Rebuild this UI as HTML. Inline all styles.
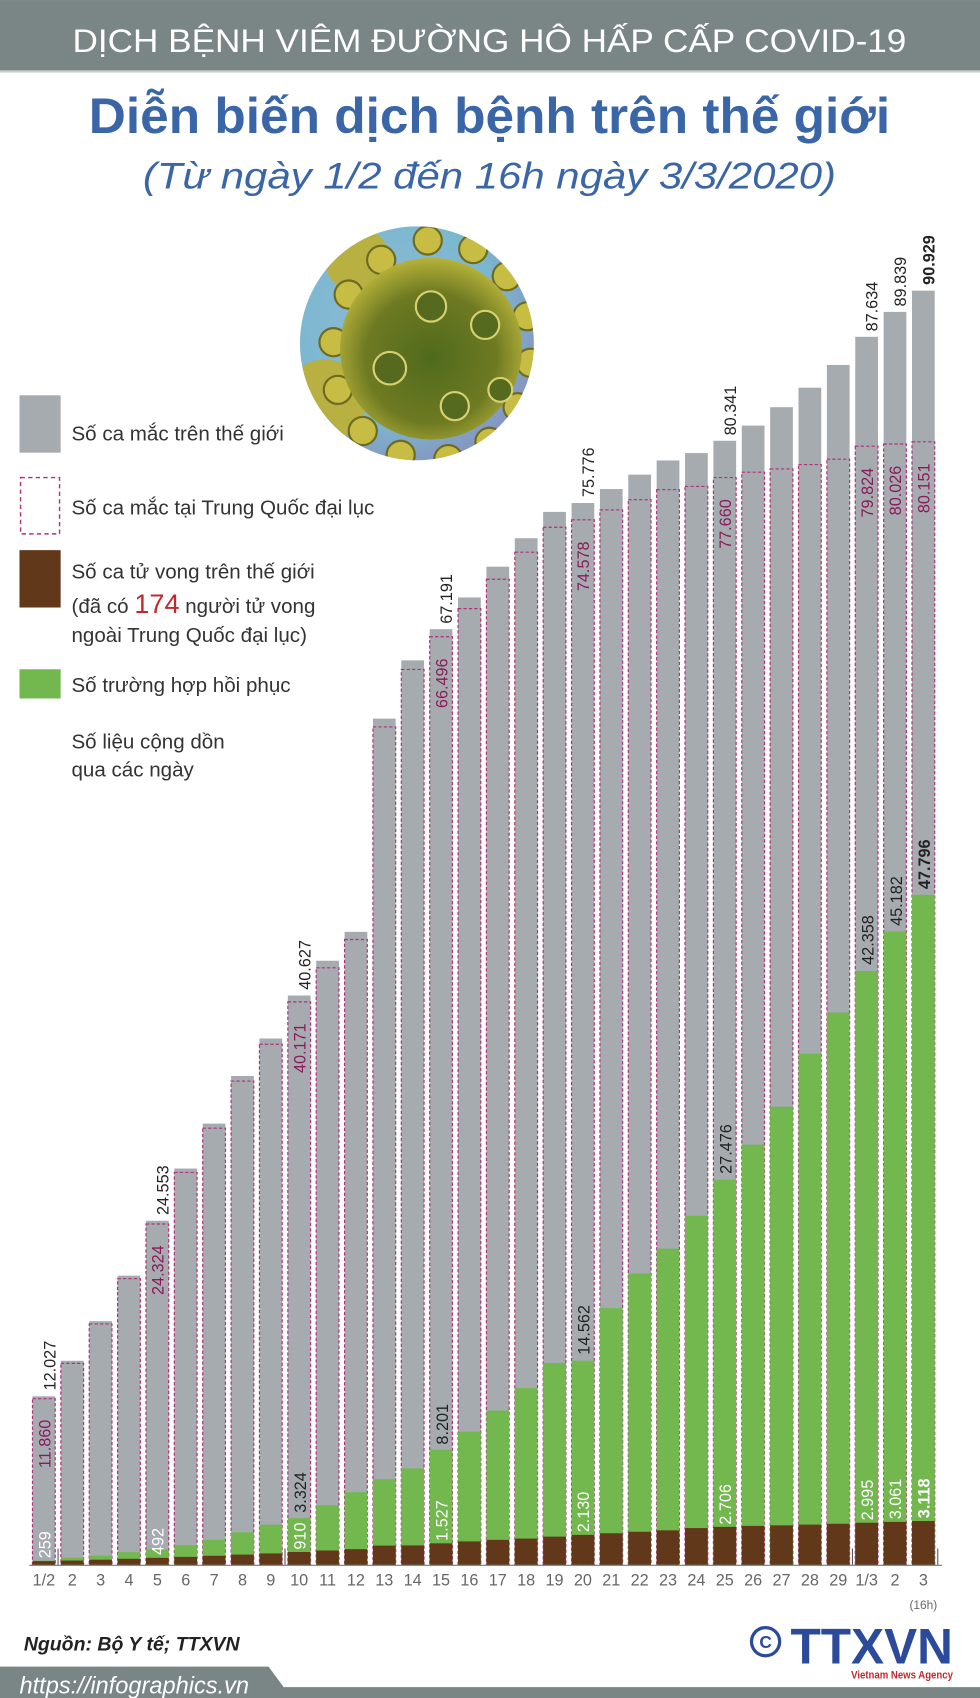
<!DOCTYPE html>
<html><head><meta charset="utf-8"><style>
html,body{margin:0;padding:0;background:#fff;}
svg{display:block;}
text{font-family:"Liberation Sans",sans-serif;}
</style></head><body>
<svg width="980" height="1698" viewBox="0 0 905 1568" xmlns="http://www.w3.org/2000/svg">
<defs>
<radialGradient id="bg" cx="0.4" cy="0.4" r="0.7"><stop offset="0" stop-color="#8fb7d6"/><stop offset="0.6" stop-color="#7ab8d0"/><stop offset="1" stop-color="#8c86b8"/></radialGradient>
<radialGradient id="ball" cx="0.5" cy="0.55" r="0.6"><stop offset="0" stop-color="#4f6a1c"/><stop offset="0.6" stop-color="#6e7a22"/><stop offset="1" stop-color="#c9c040"/></radialGradient>
<clipPath id="cc"><circle cx="385" cy="317" r="108"/></clipPath>
</defs>
<rect x="0" y="0" width="905" height="65" fill="#7a8585"/>
<rect x="0" y="65" width="905" height="2" fill="#c9cdce"/>
<text x="452" y="48" text-anchor="middle" font-size="30" fill="#fff" textLength="770" lengthAdjust="spacingAndGlyphs">DỊCH BỆNH VIÊM ĐƯỜNG HÔ HẤP CẤP COVID-19</text>
<text x="452" y="123" text-anchor="middle" font-size="46" font-weight="bold" fill="#3a66a8" textLength="740" lengthAdjust="spacingAndGlyphs">Diễn biến dịch bệnh trên thế giới</text>
<text x="452" y="174" text-anchor="middle" font-size="34" font-style="italic" fill="#3a66a8" textLength="640" lengthAdjust="spacingAndGlyphs">(Từ ngày 1/2 đến 16h ngày 3/3/2020)</text>
<!-- virus -->
<g clip-path="url(#cc)">
<rect x="270" y="200" width="230" height="230" fill="url(#bg)"/>
<g fill="#b8b040"><circle cx="300" cy="370" r="38"/><circle cx="330" cy="240" r="30"/><circle cx="290" cy="410" r="20"/></g>
<g fill="#c7bd45" stroke="#6e6a20" stroke-width="2">
<circle cx="395" cy="222" r="13"/><circle cx="437" cy="230" r="13"/><circle cx="468" cy="255" r="13"/><circle cx="487" cy="292" r="13"/><circle cx="490" cy="335" r="13"/><circle cx="478" cy="376" r="13"/><circle cx="452" cy="408" r="13"/><circle cx="414" cy="424" r="13"/><circle cx="370" cy="420" r="13"/><circle cx="335" cy="398" r="13"/><circle cx="312" cy="360" r="13"/><circle cx="308" cy="316" r="13"/><circle cx="322" cy="272" r="13"/><circle cx="352" cy="240" r="13"/>
</g>
<circle cx="398" cy="322" r="84" fill="url(#ball)"/>
<g fill="#556a1e" stroke="#d7d070" stroke-width="2"><circle cx="398" cy="283" r="14"/><circle cx="448" cy="300" r="13"/><circle cx="360" cy="340" r="15"/><circle cx="420" cy="375" r="13"/><circle cx="462" cy="360" r="11"/></g>
</g>
<!-- legend -->
<rect x="18" y="365" width="38" height="53" fill="#a6abb0"/>
<text x="66" y="407" font-size="19" fill="#333">Số ca mắc trên thế giới</text>
<rect x="19" y="441" width="36" height="52" fill="none" stroke="#b0307a" stroke-width="1.3" stroke-dasharray="4,3"/>
<text x="66" y="475" font-size="19" fill="#333">Số ca mắc tại Trung Quốc đại lục</text>
<rect x="18" y="508" width="38" height="53" fill="#62381a"/>
<text x="66" y="534" font-size="19" fill="#333">Số ca tử vong trên thế giới</text>
<text x="66" y="566" font-size="19" fill="#333">(đã có <tspan fill="#c0282d" font-size="25">174</tspan> người tử vong</text>
<text x="66" y="593" font-size="19" fill="#333">ngoài Trung Quốc đại lục)</text>
<rect x="18" y="618" width="38" height="27" fill="#72b84f"/>
<text x="66" y="639" font-size="19" fill="#333">Số trường hợp hồi phục</text>
<text x="66" y="691" font-size="19" fill="#333">Số liệu cộng dồn</text>
<text x="66" y="717" font-size="19" fill="#333">qua các ngày</text>
<g fill="#a6abb0">
<rect x="30" y="1289.4" width="21" height="155.6"/><rect x="56.2" y="1256.6" width="21" height="188.4"/><rect x="82.4" y="1220" width="21" height="225"/><rect x="108.6" y="1178" width="21" height="267"/><rect x="134.8" y="1127.3" width="21" height="317.7"/><rect x="161" y="1079.1" width="21" height="365.9"/><rect x="187.2" y="1037.6" width="21" height="407.4"/><rect x="213.4" y="993.6" width="21" height="451.4"/><rect x="239.6" y="959" width="21" height="486"/><rect x="265.8" y="919.3" width="21" height="525.7"/><rect x="292" y="887.2" width="21" height="557.8"/><rect x="318.2" y="860.5" width="21" height="584.5"/><rect x="344.4" y="663.6" width="21" height="781.4"/><rect x="370.6" y="609.8" width="21" height="835.2"/><rect x="396.8" y="581" width="21" height="864"/><rect x="423" y="551.7" width="21" height="893.3"/><rect x="449.2" y="523.3" width="21" height="921.7"/><rect x="475.4" y="497" width="21" height="948"/><rect x="501.6" y="472.7" width="21" height="972.3"/><rect x="527.8" y="464.5" width="21" height="980.5"/><rect x="554" y="451.6" width="21" height="993.4"/><rect x="580.2" y="438.3" width="21" height="1006.7"/><rect x="606.4" y="425.2" width="21" height="1019.8"/><rect x="632.6" y="418.4" width="21" height="1026.6"/><rect x="658.8" y="407" width="21" height="1038"/><rect x="685" y="393" width="21" height="1052"/><rect x="711.2" y="376" width="21" height="1069"/><rect x="737.4" y="358" width="21" height="1087"/><rect x="763.6" y="337" width="21" height="1108"/><rect x="789.8" y="311" width="21" height="1134"/><rect x="816" y="288" width="21" height="1157"/><rect x="842.2" y="268.4" width="21" height="1176.6"/>
</g>
<g fill="none" stroke="#b0307a" stroke-width="1.1" stroke-dasharray="3,2">
<rect x="30" y="1291.6" width="21" height="153.4"/><rect x="56.2" y="1259" width="21" height="186"/><rect x="82.4" y="1222.6" width="21" height="222.4"/><rect x="108.6" y="1180.8" width="21" height="264.2"/><rect x="134.8" y="1130.3" width="21" height="314.7"/><rect x="161" y="1082.7" width="21" height="362.3"/><rect x="187.2" y="1041.8" width="21" height="403.2"/><rect x="213.4" y="998.3" width="21" height="446.7"/><rect x="239.6" y="964.3" width="21" height="480.7"/><rect x="265.8" y="925.2" width="21" height="519.8"/><rect x="292" y="893.7" width="21" height="551.3"/><rect x="318.2" y="867.6" width="21" height="577.4"/><rect x="344.4" y="671.3" width="21" height="773.7"/><rect x="370.6" y="618.2" width="21" height="826.8"/><rect x="396.8" y="588" width="21" height="857"/><rect x="423" y="562" width="21" height="883"/><rect x="449.2" y="534.9" width="21" height="910.1"/><rect x="475.4" y="509.9" width="21" height="935.1"/><rect x="501.6" y="486.9" width="21" height="958.1"/><rect x="527.8" y="480" width="21" height="965"/><rect x="554" y="470.9" width="21" height="974.1"/><rect x="580.2" y="461.4" width="21" height="983.6"/><rect x="606.4" y="452.2" width="21" height="992.8"/><rect x="632.6" y="449.2" width="21" height="995.8"/><rect x="658.8" y="441" width="21" height="1004"/><rect x="685" y="436" width="21" height="1009"/><rect x="711.2" y="433" width="21" height="1012"/><rect x="737.4" y="429" width="21" height="1016"/><rect x="763.6" y="424" width="21" height="1021"/><rect x="789.8" y="412" width="21" height="1033"/><rect x="816" y="410" width="21" height="1035"/><rect x="842.2" y="408" width="21" height="1037"/>
</g>
<g fill="#72b84f">
<rect x="30" y="1441.1" width="21" height="3.9"/><rect x="56.2" y="1438.5" width="21" height="6.5"/><rect x="82.4" y="1436.6" width="21" height="8.4"/><rect x="108.6" y="1433.4" width="21" height="11.6"/><rect x="134.8" y="1430.8" width="21" height="14.2"/><rect x="161" y="1427" width="21" height="18"/><rect x="187.2" y="1422" width="21" height="23"/><rect x="213.4" y="1415" width="21" height="30"/><rect x="239.6" y="1408" width="21" height="37"/><rect x="265.8" y="1402" width="21" height="43"/><rect x="292" y="1390" width="21" height="55"/><rect x="318.2" y="1378" width="21" height="67"/><rect x="344.4" y="1366" width="21" height="79"/><rect x="370.6" y="1356" width="21" height="89"/><rect x="396.8" y="1338.8" width="21" height="106.2"/><rect x="423" y="1322" width="21" height="123"/><rect x="449.2" y="1302.6" width="21" height="142.4"/><rect x="475.4" y="1281.9" width="21" height="163.1"/><rect x="501.6" y="1258.6" width="21" height="186.4"/><rect x="527.8" y="1256.5" width="21" height="188.5"/><rect x="554" y="1208" width="21" height="237"/><rect x="580.2" y="1176" width="21" height="269"/><rect x="606.4" y="1153" width="21" height="292"/><rect x="632.6" y="1122.7" width="21" height="322.3"/><rect x="658.8" y="1089.4" width="21" height="355.6"/><rect x="685" y="1057" width="21" height="388"/><rect x="711.2" y="1022" width="21" height="423"/><rect x="737.4" y="973" width="21" height="472"/><rect x="763.6" y="935" width="21" height="510"/><rect x="789.8" y="896.7" width="21" height="548.3"/><rect x="816" y="860.2" width="21" height="584.8"/><rect x="842.2" y="826.3" width="21" height="618.7"/>
</g>
<g fill="#62381a">
<rect x="30" y="1441.6" width="21" height="3.4"/><rect x="56.2" y="1441.1" width="21" height="3.9"/><rect x="82.4" y="1440.3" width="21" height="4.7"/><rect x="108.6" y="1439.5" width="21" height="5.5"/><rect x="134.8" y="1438.6" width="21" height="6.4"/><rect x="161" y="1437.7" width="21" height="7.3"/><rect x="187.2" y="1436.7" width="21" height="8.3"/><rect x="213.4" y="1435.6" width="21" height="9.4"/><rect x="239.6" y="1434.5" width="21" height="10.5"/><rect x="265.8" y="1433.2" width="21" height="11.8"/><rect x="292" y="1431.8" width="21" height="13.2"/><rect x="318.2" y="1430.6" width="21" height="14.4"/><rect x="344.4" y="1427.3" width="21" height="17.7"/><rect x="370.6" y="1427.1" width="21" height="17.9"/><rect x="396.8" y="1425.2" width="21" height="19.8"/><rect x="423" y="1423.4" width="21" height="21.6"/><rect x="449.2" y="1422" width="21" height="23"/><rect x="475.4" y="1420.8" width="21" height="24.2"/><rect x="501.6" y="1419" width="21" height="26"/><rect x="527.8" y="1417.4" width="21" height="27.6"/><rect x="554" y="1415.9" width="21" height="29.1"/><rect x="580.2" y="1414.5" width="21" height="30.5"/><rect x="606.4" y="1413.2" width="21" height="31.8"/><rect x="632.6" y="1411.1" width="21" height="33.9"/><rect x="658.8" y="1410" width="21" height="35"/><rect x="685" y="1409.1" width="21" height="35.9"/><rect x="711.2" y="1408.6" width="21" height="36.4"/><rect x="737.4" y="1407.9" width="21" height="37.1"/><rect x="763.6" y="1407.1" width="21" height="37.9"/><rect x="789.8" y="1406.2" width="21" height="38.8"/><rect x="816" y="1405.4" width="21" height="39.6"/><rect x="842.2" y="1404.6" width="21" height="40.4"/>
</g>
<line x1="27" y1="1445.5" x2="870" y2="1445.5" stroke="#777" stroke-width="1"/>
<g stroke="#555" stroke-width="1">
<line x1="53.6" y1="1430" x2="53.6" y2="1445"/><line x1="263.2" y1="1430" x2="263.2" y2="1445"/><line x1="787.2" y1="1430" x2="787.2" y2="1445"/><line x1="866" y1="1430" x2="866" y2="1445"/>
</g>
<g font-size="15" fill="#222">
<text transform="translate(46,1284) rotate(-90)" dy="0.35em">12.027</text>
<text transform="translate(150.3,1122) rotate(-90)" dy="0.35em">24.553</text>
<text transform="translate(281.3,914) rotate(-90)" dy="0.35em">40.627</text>
<text transform="translate(412.3,576) rotate(-90)" dy="0.35em">67.191</text>
<text transform="translate(543.3,459) rotate(-90)" dy="0.35em">75.776</text>
<text transform="translate(674.3,402) rotate(-90)" dy="0.35em">80.341</text>
<text transform="translate(805.3,306) rotate(-90)" dy="0.35em">87.634</text>
<text transform="translate(831.5,283) rotate(-90)" dy="0.35em">89.839</text>
<text transform="translate(857.7,263) rotate(-90)" dy="0.35em" font-weight="bold">90.929</text>
</g>
<g font-size="15" fill="#8a1a5a" text-anchor="end">
<text transform="translate(41.5,1311) rotate(-90)" dy="0.35em">11.860</text>
<text transform="translate(145.8,1150) rotate(-90)" dy="0.35em">24.324</text>
<text transform="translate(276.8,945) rotate(-90)" dy="0.35em">40.171</text>
<text transform="translate(407.8,608) rotate(-90)" dy="0.35em">66.496</text>
<text transform="translate(538.8,500) rotate(-90)" dy="0.35em">74.578</text>
<text transform="translate(669.8,461) rotate(-90)" dy="0.35em">77.660</text>
<text transform="translate(800.8,432) rotate(-90)" dy="0.35em">79.824</text>
<text transform="translate(827,430) rotate(-90)" dy="0.35em">80.026</text>
<text transform="translate(853.2,428) rotate(-90)" dy="0.35em">80.151</text>
</g>
<g font-size="15" fill="#222">
<text transform="translate(277.3,1397) rotate(-90)" dy="0.35em">3.324</text>
<text transform="translate(408.3,1334) rotate(-90)" dy="0.35em">8.201</text>
<text transform="translate(539.3,1251) rotate(-90)" dy="0.35em">14.562</text>
<text transform="translate(670.3,1084) rotate(-90)" dy="0.35em">27.476</text>
<text transform="translate(801.3,891) rotate(-90)" dy="0.35em">42.358</text>
<text transform="translate(827.5,855) rotate(-90)" dy="0.35em">45.182</text>
<text transform="translate(853.7,821) rotate(-90)" dy="0.35em" font-weight="bold">47.796</text>
</g>
<g font-size="15" fill="#fff">
<text transform="translate(41.5,1439) rotate(-90)" dy="0.35em">259</text>
<text transform="translate(145.8,1436) rotate(-90)" dy="0.35em">492</text>
<text transform="translate(276.8,1431) rotate(-90)" dy="0.35em">910</text>
<text transform="translate(407.8,1423) rotate(-90)" dy="0.35em">1.527</text>
<text transform="translate(538.8,1415) rotate(-90)" dy="0.35em">2.130</text>
<text transform="translate(669.8,1408) rotate(-90)" dy="0.35em">2.706</text>
<text transform="translate(800.8,1404) rotate(-90)" dy="0.35em">2.995</text>
<text transform="translate(827,1403) rotate(-90)" dy="0.35em">3.061</text>
<text transform="translate(853.2,1402) rotate(-90)" dy="0.35em" font-weight="bold">3.118</text>
</g>
<g font-size="15" fill="#666" text-anchor="middle">
<text x="40.5" y="1464">1/2</text><text x="66.7" y="1464">2</text><text x="92.9" y="1464">3</text><text x="119.1" y="1464">4</text><text x="145.3" y="1464">5</text><text x="171.5" y="1464">6</text><text x="197.7" y="1464">7</text><text x="223.9" y="1464">8</text><text x="250.1" y="1464">9</text><text x="276.3" y="1464">10</text><text x="302.5" y="1464">11</text><text x="328.7" y="1464">12</text><text x="354.9" y="1464">13</text><text x="381.1" y="1464">14</text><text x="407.3" y="1464">15</text><text x="433.5" y="1464">16</text><text x="459.7" y="1464">17</text><text x="485.9" y="1464">18</text><text x="512.1" y="1464">19</text><text x="538.3" y="1464">20</text><text x="564.5" y="1464">21</text><text x="590.7" y="1464">22</text><text x="616.9" y="1464">23</text><text x="643.1" y="1464">24</text><text x="669.3" y="1464">25</text><text x="695.5" y="1464">26</text><text x="721.7" y="1464">27</text><text x="747.9" y="1464">28</text><text x="774.1" y="1464">29</text><text x="800.3" y="1464">1/3</text><text x="826.5" y="1464">2</text><text x="852.7" y="1464">3</text>
<text x="852.7" y="1486" font-size="11">(16h)</text>
</g>
<text x="22" y="1524" font-size="18" font-weight="bold" font-style="italic" fill="#222">Nguồn: Bộ Y tế; TTXVN</text>
<circle cx="707" cy="1516" r="13" fill="#fff" stroke="#2b4a9a" stroke-width="3"/>
<text x="707" y="1522" font-size="16" font-weight="bold" fill="#2b4a9a" text-anchor="middle">C</text>
<text x="730" y="1536" font-size="46" font-weight="bold" fill="#2b4a9a" textLength="150" lengthAdjust="spacingAndGlyphs">TTXVN</text>
<text x="786" y="1550" font-size="10" font-weight="bold" fill="#c0282d" textLength="94" lengthAdjust="spacingAndGlyphs">Vietnam News Agency</text>
<polygon points="0,1539 248,1539 262,1558 905,1558 905,1568 0,1568" fill="#7a8585"/>
<text x="18" y="1564" font-size="22" font-style="italic" fill="#fff" textLength="212" lengthAdjust="spacingAndGlyphs">https://infographics.vn</text>
</svg>
</body></html>
